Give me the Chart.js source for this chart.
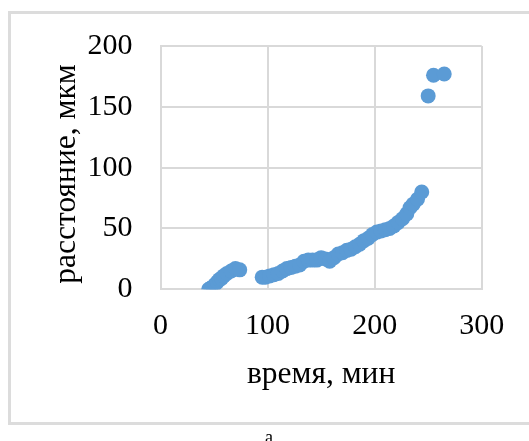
<!DOCTYPE html>
<html>
<head>
<meta charset="utf-8">
<script src="https://cdn.jsdelivr.net/npm/chart.js@4"></script>
<style>
  html, body { margin: 0; padding: 0; background: #fff; overflow: hidden; }
  #wrap { position: relative; width: 529px; height: 441px; }
  #box { position: absolute; left: 8px; top: 11px; width: 540px; height: 408px; border: 3px solid #dcdcdc; box-sizing: content-box; }
  canvas { position: absolute; left: 0; top: 0; }
</style>
</head>
<body>
<div id="wrap">
  <div id="box"></div>
  <canvas id="c" width="529" height="441"></canvas>
</div>
<script>
// Data
const timeMin = [45, 47, 49, 51, 53, 55, 57, 59, 62, 66, 70, 74,
  95, 98, 102, 106, 110, 114, 118, 122, 126, 130, 134, 138, 142, 146, 150, 154, 158, 162,
  166, 170, 174, 178, 182, 186, 190, 194, 198, 202, 206, 210, 214, 218, 222, 226, 230, 233,
  236, 240, 244, 250, 255, 265];
const distanceUm = [0, 1, 2, 4, 6, 8, 9, 11, 13, 15, 17, 16,
  10, 10, 11, 12, 13, 15, 17, 18, 19, 20, 23, 24, 24, 24, 26, 25, 23, 26,
  29, 30, 32, 33, 35, 37, 40, 42, 45, 47, 48, 49, 50, 52, 55, 58, 62, 67,
  70, 74, 80, 159, 176, 177];
const xTicks = [0, 100, 200, 300];
const yTicks = [0, 50, 100, 150, 200];
const xTitle = 'время, мин';
const yTitle = 'расстояние, мкм';
const caption = 'а';

const points = timeMin.map((t, i) => ({ x: t, y: distanceUm[i] }));

const FONT = '"Liberation Serif", "Times New Roman", serif';
const PAD = { left: 10, top: 41.7, right: 47.3, bottom: 10 };
const AREA = { left: 160.5, bottom: 289.3 };

const textPlugin = {
  id: 'texts',
  afterDraw(chart) {
    const ctx = chart.ctx;
    const a = chart.chartArea;
    ctx.save();
    ctx.fillStyle = '#000';
    ctx.font = '31.5px ' + FONT;
    ctx.textAlign = 'center';
    ctx.textBaseline = 'alphabetic';
    ctx.fillText(xTitle, (a.left + a.right) / 2, 383);
    ctx.save();
    ctx.translate(75, 174);
    ctx.rotate(-Math.PI / 2);
    ctx.fillText(yTitle, 0, 0);
    ctx.restore();
    ctx.font = '18px ' + FONT;
    ctx.fillText(caption, 269, 443);
    ctx.restore();
  }
};

new Chart(document.getElementById('c'), {
  type: 'scatter',
  data: {
    datasets: [{
      data: points,
      backgroundColor: '#5B9BD5',
      borderColor: '#5B9BD5',
      borderWidth: 0,
      pointRadius: 7.5,
      pointHoverRadius: 7.5
    }]
  },
  options: {
    responsive: false,
    animation: false,
    devicePixelRatio: 1,
    layout: { padding: PAD },
    plugins: { legend: { display: false }, tooltip: { enabled: false } },
    scales: {
      x: {
        type: 'linear',
        min: 0, max: 300,
        afterBuildTicks: s => { s.ticks = xTicks.map(v => ({ value: v })); },
        afterFit: s => { s.height = 441 - AREA.bottom - PAD.bottom; },
        grid: { color: '#d9d9d9', lineWidth: 2, drawTicks: false },
        border: { display: true, color: '#d9d9d9', width: 2 },
        ticks: { padding: 19, color: '#000', font: { family: FONT, size: 30 } }
      },
      y: {
        type: 'linear',
        min: 0, max: 200,
        afterBuildTicks: s => { s.ticks = yTicks.map(v => ({ value: v })); },
        afterFit: s => { s.width = AREA.left - PAD.left; },
        grid: { color: '#d9d9d9', lineWidth: 2, drawTicks: false },
        border: { display: true, color: '#d9d9d9', width: 2 },
        ticks: { padding: 28, color: '#000', font: { family: FONT, size: 30 } }
      }
    }
  },
  plugins: [textPlugin]
});
</script>
</body>
</html>
